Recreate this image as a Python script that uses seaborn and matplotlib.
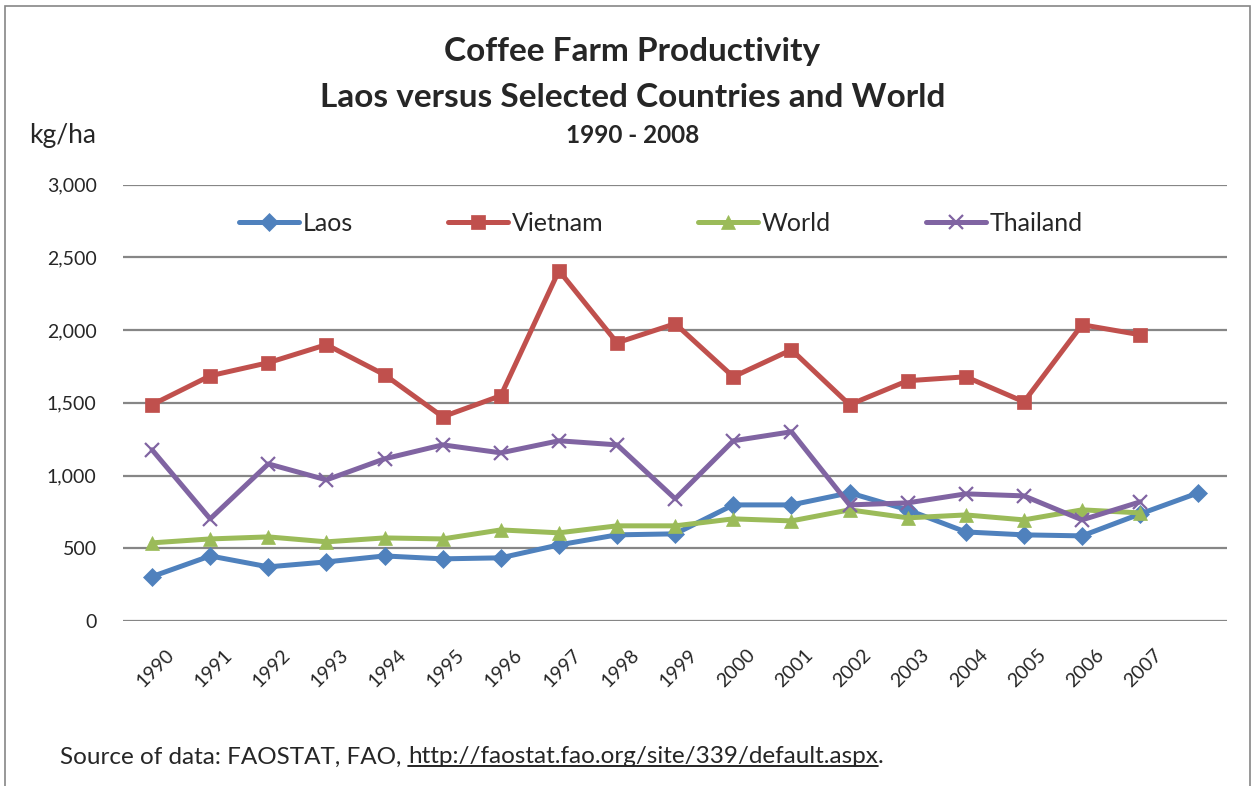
import numpy as np
import pandas as pd
import matplotlib.pyplot as plt
import matplotlib.transforms as mtransforms
import seaborn as sns
from matplotlib.lines import Line2D
from matplotlib.patches import Rectangle

years = [str(y) for y in range(1990, 2008)] + [""]
laos = [305, 447, 372, 406, 447, 427, 434, 523, 592, 599, 798, 798, 881, 764, 612, 592, 585, 736, 881]
vietnam = [1487, 1686, 1776, 1900, 1693, 1404, 1549, 2409, 1913, 2044, 1679, 1865, 1487, 1652, 1679, 1507, 2037, 1968, np.nan]
world = [537, 564, 578, 544, 571, 564, 626, 606, 654, 654, 702, 688, 764, 709, 729, 695, 764, 743, np.nan]
thailand = [1177, 702, 1080, 970, 1115, 1211, 1156, 1239, 1211, 840, 1239, 1301, 798, 812, 874, 860, 695, 819, np.nan]

series = {"Laos": laos, "Vietnam": vietnam, "World": world, "Thailand": thailand}
colors = {"Laos": "#4F81BD", "Vietnam": "#C0504D", "World": "#9BBB59", "Thailand": "#8064A2"}
markers = {"Laos": "D", "Vietnam": "s", "World": "^", "Thailand": "x"}
msizes = {"Laos": 9, "Vietnam": 10, "World": 10, "Thailand": 10}

sns.set_theme(style="white")
plt.rcParams["font.family"] = ["Lato", "DejaVu Sans"]

fig = plt.figure(figsize=(12.55, 7.86), dpi=100)
ax = fig.add_axes([0.098, 0.210, 0.880, 0.555])

idx = np.arange(len(years))
lw = 3.6
for name, vals in series.items():
    df = pd.DataFrame({"x": idx, "y": vals}).dropna()
    sns.lineplot(data=df, x="x", y="y", ax=ax, color=colors[name], linewidth=lw,
                 marker=markers[name], markersize=msizes[name],
                 markeredgecolor=colors[name], markeredgewidth=1.6 if name == "Thailand" else 0.5,
                 label=name)

ax.set_xlim(-0.5, len(years) - 0.5)
ax.set_ylim(0, 3000)
ax.set_yticks(range(0, 3001, 500))
ax.set_yticklabels([f"{v:,}" for v in range(0, 3001, 500)], fontsize=14)
ax.set_xticks(idx)
ax.set_xticklabels(years, rotation=45, ha="right", rotation_mode="anchor", fontsize=14)
ax.tick_params(axis="x", length=0, pad=18)
ax.tick_params(axis="y", length=0, pad=19)
offset = mtransforms.ScaledTranslation(13 / 100, 0, fig.dpi_scale_trans)
for lab in ax.get_xticklabels():
    lab.set_transform(lab.get_transform() + offset)
ax.yaxis.grid(True, color="#868686", linewidth=1.6)
ax.xaxis.grid(False)
for s in ax.spines.values():
    s.set_visible(False)
ax.set_xlabel("")
ax.set_ylabel("")

handles = [Line2D([], [], color=colors[n], linewidth=lw, marker=markers[n], markersize=msizes[n],
                  markeredgecolor=colors[n], markeredgewidth=1.6 if n == "Thailand" else 0.5)
           for n in series]
ax.legend(handles, list(series), loc="upper center", bbox_to_anchor=(0.487, 0.99), ncol=4,
          frameon=False, fontsize=18, handlelength=2.4, columnspacing=3.8, handletextpad=0.15)

fig.text(0.504, 0.934, "Coffee Farm Productivity", ha="center", va="center", fontsize=24, fontweight="bold")
fig.text(0.504, 0.876, "Laos versus Selected Countries and World", ha="center", va="center", fontsize=24, fontweight="bold")
fig.text(0.504, 0.828, "1990 - 2008", ha="center", va="center", fontsize=17.5, fontweight="bold")
fig.text(0.023, 0.827, "kg/ha", ha="left", va="center", fontsize=19)

# source line with underlined link
fig.canvas.draw()
r = fig.canvas.get_renderer()
fs = 17.5
t1 = fig.text(0.048, 0.037, "Source of data: FAOSTAT, FAO, ", ha="left", va="center", fontsize=fs)
bb = t1.get_window_extent(r)
x2 = bb.x1 / fig.bbox.width
t2 = fig.text(x2, 0.037, "http://faostat.fao.org/site/339/default.aspx", ha="left", va="center", fontsize=fs)
bb2 = t2.get_window_extent(r)
fig.add_artist(Line2D([bb2.x0 / fig.bbox.width, bb2.x1 / fig.bbox.width], [bb2.y0 / fig.bbox.height + 0.002] * 2,
                      transform=fig.transFigure, color="black", linewidth=1.2))
fig.text(bb2.x1 / fig.bbox.width, 0.037, ".", ha="left", va="center", fontsize=fs)

fig.add_artist(Rectangle((0.004, -0.02), 0.992, 1.013, transform=fig.transFigure, fill=False,
                         edgecolor="#868686", linewidth=1.2))

fig.savefig("out.png", dpi=100)
